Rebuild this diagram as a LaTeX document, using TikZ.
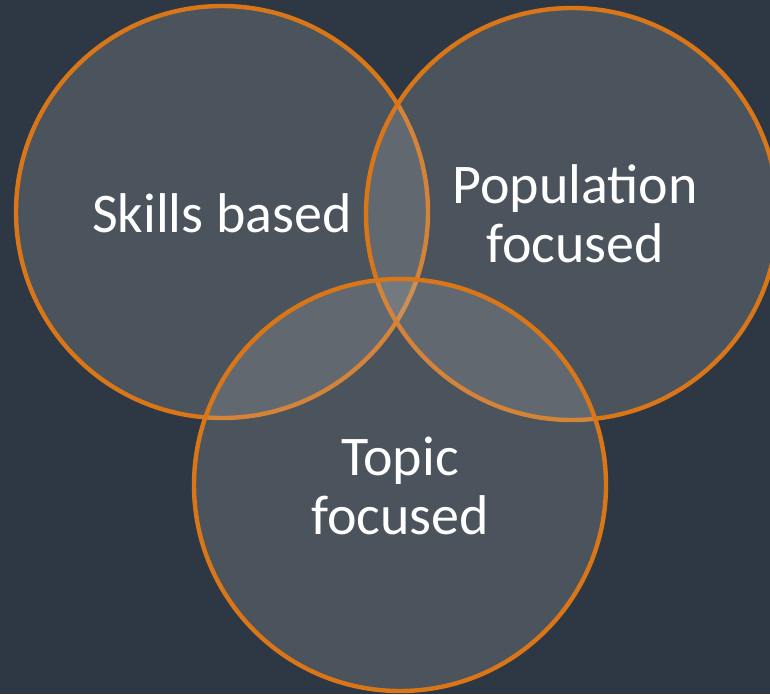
\documentclass[tikz,border=0pt]{standalone}
\usepackage{fontspec}
\setmainfont{Carlito}
\definecolor{bgcol}{RGB}{46,56,68}
\definecolor{ringcol}{RGB}{217,118,24}
\definecolor{fillcol}{RGB}{191,191,191}
\begin{document}
\begin{tikzpicture}[x=1pt,y=-1pt,
  venn/.style={draw=ringcol, line width=4.4pt, fill=fillcol, fill opacity=0.2},
  label/.style={text=white, font=\fontsize{56}{59}\selectfont, align=center, anchor=base, inner sep=0pt}]
  \fill[bgcol] (0,0) rectangle (770,694);
  \useasboundingbox (0,0) rectangle (770,694);
  \path[venn] (222,212) circle[radius=206];
  \path[venn] (572,214) circle[radius=206];
  \path[venn] (400,485) circle[radius=206];
  \node[label] (skills) at (222,232) {Skills based};
  \node[label] (pop) at (575,262) {Population\\focused};
  \node[label] (topic) at (400,534) {Topic\\focused};
\end{tikzpicture}
\end{document}
